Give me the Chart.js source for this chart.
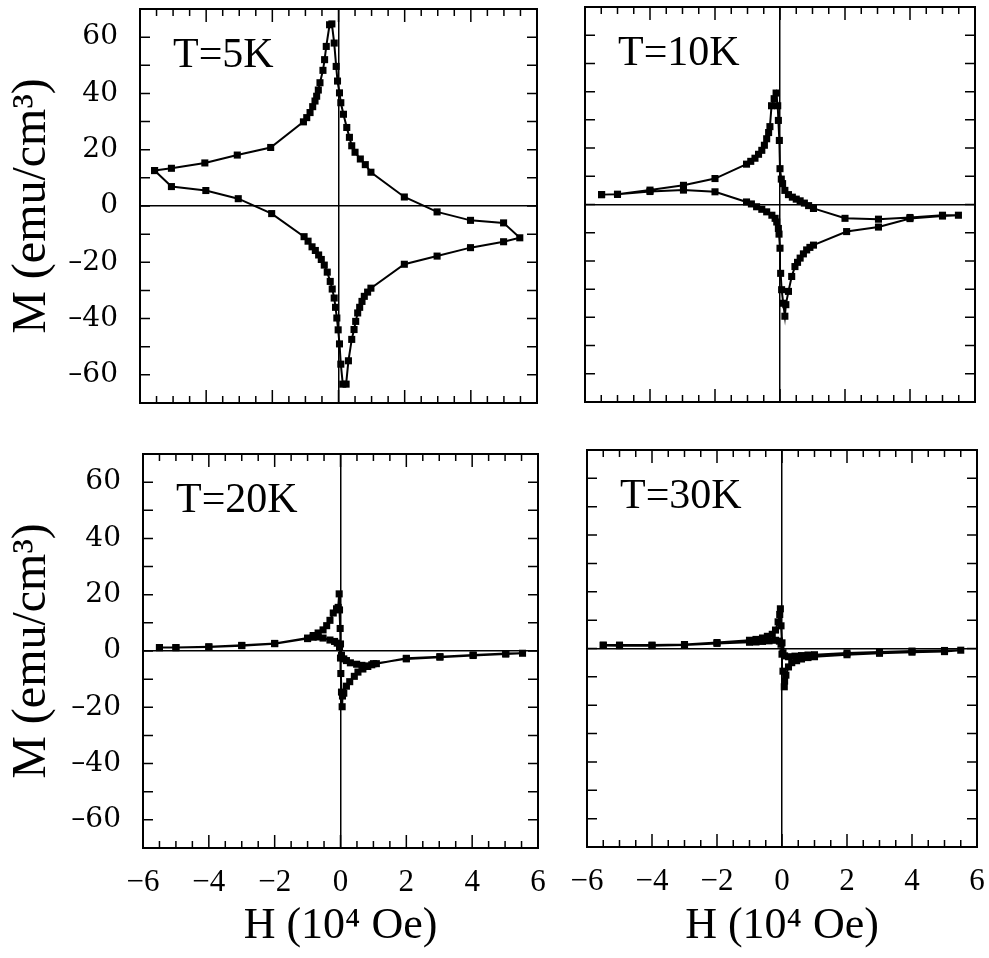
<!DOCTYPE html>
<html>
<head>
<meta charset="utf-8" />
<title>M-H hysteresis loops</title>
<script src="https://cdn.jsdelivr.net/npm/chart.js@4.4.1/dist/chart.umd.min.js"></script>
<style>
    body, html {
        margin: 0;
        padding: 0;
        background: #fff;
        width: 989px;
        height: 958px;
        overflow: hidden;
    }
    canvas { position: absolute; }
</style>
</head>
<body>
<canvas id="c5"  width="560" height="420" style="left:0px;top:0px"></canvas>
<canvas id="c10" width="429" height="420" style="left:560px;top:0px"></canvas>
<canvas id="c20" width="560" height="518" style="left:0px;top:440px"></canvas>
<canvas id="c30" width="429" height="518" style="left:560px;top:440px"></canvas>

<script>
// H in 10^4 Oe, M in emu/cm^3
// each loop: left tip -> peak -> right tip -> trough -> back to left tip
const h5 = [-5.56,-5.05,-4.04,-3.06,-2.05,-1.06,-0.96,-0.86,-0.78,-0.71,-0.66,-0.61,-0.56,-0.47,-0.42,-0.37,-0.27,
            -0.2,-0.13,-0.07,-0.03,0.03,0.07,0.15,0.25,0.33,0.4,0.5,0.66,0.81,0.98,1.99,2.98,3.99,4.99,5.48,
            4.99,3.99,2.98,1.99,0.98,0.88,0.78,0.71,0.64,0.58,0.52,0.47,0.4,0.3,0.23,0.13,
            0.07,0.03,-0.01,-0.05,-0.09,-0.13,-0.19,-0.25,-0.34,-0.43,-0.52,-0.6,-0.7,-0.8,-0.92,-1.04,-2.02,-3.03,-4.01,-5.05,-5.56];
const m5 = [12.6,13.4,15.3,18.1,20.8,29.9,31.4,33.2,35.3,37.3,39,41.2,43.8,48.2,52,56.7,64.4,
            64.7,57.9,49.6,44.4,40.2,36.7,32.6,27.9,24.4,21.4,19.1,16.7,14.7,12,3.2,-2.1,-5.1,-6.0,-11.3,
            -12.7,-14.8,-17.8,-20.7,-29.2,-30.6,-32.1,-33.9,-36,-38,-41,-43.9,-47.4,-55,-63.3,-63.3,
            -56.2,-49,-44,-39.8,-36,-32.7,-29.5,-26.8,-23.5,-21,-19,-17.4,-15.8,-14.5,-12.5,-10.9,-2.7,2.6,5.5,6.9,12.6];

const h10 = [-5.49,-5.0,-4.0,-2.97,-2.0,-1.03,-0.9,-0.77,-0.66,-0.56,-0.48,-0.41,-0.35,-0.31,-0.26,-0.18,-0.12,
             -0.07,-0.05,-0.02,0,0.04,0.08,0.15,0.26,0.38,0.5,0.62,0.75,0.88,1.03,2.0,3.03,4.0,5.0,5.49,
             5.0,4.0,3.03,2.05,1.03,0.92,0.82,0.72,0.62,0.54,0.46,0.36,0.26,0.18,0.15,
             0.1,0.05,0.02,0,-0.03,-0.05,-0.1,-0.15,-0.25,-0.41,-0.56,-0.72,-0.88,-1.03,-2.0,-2.97,-4.0,-5.0,-5.49];
const m10 = [3.5,3.6,5.1,6.8,9.2,14.3,15.3,16.4,17.8,19.2,21,23.3,25.5,27.6,35,37.5,39.5,
             35,29.8,22.7,12.7,9,7.4,5,3.5,2.6,1.9,1.3,0.5,-0.4,-1.4,-4.9,-5.2,-4.6,-3.8,-3.8,
             -4.1,-5.0,-8.0,-9.6,-14.4,-15.2,-16.1,-17.5,-19,-20.5,-22,-25.5,-30.8,-35.5,-39.6,
             -35,-30.2,-24.4,-15.5,-10.5,-8.5,-6.2,-4.9,-3.8,-2.6,-1.7,-0.8,0.2,0.9,4.5,5.1,4.6,3.6,3.5];

const h20 = [-5.5,-5,-4,-3,-2,-1,-0.83,-0.68,-0.53,-0.42,-0.32,-0.22,-0.12,-0.07,-0.04,
             -0.03,-0.01,0.0,0.03,0.1,0.18,0.3,0.49,0.65,0.79,0.95,1.09,2.0,3.02,4.03,5.02,5.53,
             5.02,4.03,3.02,2.0,1.0,0.83,0.68,0.53,0.42,0.28,0.18,0.1,0.06,0.05,
             0.03,0.01,0.0,-0.03,-0.1,-0.18,-0.32,-0.53,-0.68,-0.83,-1.0,-2,-3,-4,-5,-5.5];
const m20 = [1.2,1.2,1.4,1.9,2.6,4.4,5.5,6.4,7.5,9,10.9,13.5,15,15.5,20.3,
             14.6,8,2.5,-1.5,-2.8,-3.4,-4.2,-4.7,-5.1,-5.3,-4.9,-4.5,-2.6,-2.0,-1.4,-0.9,-0.8,
             -1.1,-1.6,-2.2,-2.8,-4.5,-5.5,-6.4,-7.5,-9,-10.9,-12.5,-15,-16,-19.8,
             -14.6,-8,-2.5,1.5,2.8,3.4,3.9,4.6,5,4.9,4.6,2.7,2.0,1.5,1.2,1.2];

const h30 = [-5.5,-5,-4,-3,-2,-1,-0.8,-0.6,-0.45,-0.3,-0.2,-0.12,-0.07,-0.05,
             -0.03,0.0,0.03,0.08,0.2,0.4,0.6,0.8,1.0,2.0,3.0,4.0,5.0,5.5,
             5.0,4.0,3.0,2.0,1.0,0.8,0.6,0.45,0.3,0.2,0.12,0.08,0.07,
             0.03,0.0,-0.03,-0.08,-0.2,-0.4,-0.6,-0.8,-1.0,-2,-3,-4,-5,-5.5];
const m30 = [1.2,1.2,1.2,1.4,2.1,2.9,3.2,3.7,4.3,5.0,6.5,9.4,12,14,
             8,2,-1.5,-2.6,-2.9,-2.7,-2.5,-2.3,-2.2,-1.6,-1.2,-0.9,-0.7,-0.6,
             -1.1,-1.3,-1.7,-2.2,-2.9,-3.2,-3.7,-4.3,-5.0,-6.5,-9.4,-11.5,-13.5,
             -8,-2,1.5,2.6,2.9,2.7,2.5,2.3,2.2,1.8,1.2,1.0,1.0,1.1];

const xTickVals = [-6, -4, -2, 0, 2, 4, 6];
const yTickVals = [-60, -40, -20, 0, 20, 40, 60];
const panelLabels = ['T=5K', 'T=10K', 'T=20K', 'T=30K'];

// inward ticks on all four sides, frame and the T= label
const framePlugin = {
    id: 'frame',
    afterDraw(chart, args, opts) {
        const { ctx, chartArea: a, scales: { x, y } } = chart;
        ctx.save();
        ctx.strokeStyle = '#000';
        ctx.lineWidth = 2;
        ctx.strokeRect(a.left, a.top, a.right - a.left, a.bottom - a.top);
        ctx.lineWidth = 1.5;
        ctx.beginPath();
        for (let v = -6; v <= 6; v += 0.5) {
            const px = x.getPixelForValue(v);
            const len = (v % 2 === 0) ? 13 : 7;
            ctx.moveTo(px, a.bottom); ctx.lineTo(px, a.bottom - len);
            ctx.moveTo(px, a.top); ctx.lineTo(px, a.top + len);
        }
        for (let v = -60; v <= 60; v += 10) {
            const py = y.getPixelForValue(v);
            ctx.moveTo(a.left, py); ctx.lineTo(a.left + 10, py);
            ctx.moveTo(a.right, py); ctx.lineTo(a.right - 10, py);
        }
        ctx.stroke();
        ctx.fillStyle = '#000';
        ctx.font = '42px "Liberation Serif"';
        ctx.textBaseline = 'alphabetic';
        ctx.fillText(opts.label, a.left + 33, a.top + 58);
        ctx.restore();
    }
};

const zeroGrid = c => (c.tick && c.tick.value === 0) ? '#000' : 'rgba(0,0,0,0)';

function makePanel(id, hs, ms, label, cfg)
{
    const pts = hs.map((h, i) => ({ x: h, y: ms[i] }));
    return new Chart(document.getElementById(id).getContext('2d'), {
        type: 'scatter',
        data: {
            datasets: [{
                data: pts,
                showLine: true,
                borderColor: '#000',
                borderWidth: 2,
                backgroundColor: '#000',
                pointStyle: 'rect',
                pointRadius: 5,
                pointBorderWidth: 0,
                tension: 0
            }]
        },
        options: {
            responsive: false,
            animation: false,
            devicePixelRatio: 1,
            layout: { padding: { left: 0, top: cfg.top, right: cfg.right, bottom: 0 } },
            plugins: {
                legend: { display: false },
                tooltip: { enabled: false },
                frame: { label: label }
            },
            scales: {
                x: {
                    type: 'linear', min: -6, max: 6,
                    afterBuildTicks: s => { s.ticks = xTickVals.map(v => ({ value: v })); },
                    afterFit: s => { s.height = cfg.xH; s.paddingLeft = 0; s.paddingRight = 0; },
                    border: { display: false },
                    grid: { color: zeroGrid, lineWidth: 1.5, drawTicks: false },
                    ticks: {
                        display: cfg.showX, padding: 16, color: '#000', maxRotation: 0, autoSkip: false,
                        font: { family: '"Liberation Serif"', size: 31 },
                        callback: v => String(v).replace('-', '\u2212')
                    },
                    title: {
                        display: cfg.showX, text: 'H (10\u2074 Oe)', color: '#000',
                        font: { family: '"Liberation Serif"', size: 44 },
                        padding: { top: 0, bottom: 5 }
                    }
                },
                y: {
                    type: 'linear', min: -70, max: 70,
                    afterBuildTicks: s => { s.ticks = yTickVals.map(v => ({ value: v })); },
                    afterFit: s => { s.width = cfg.yW; s.paddingTop = 0; s.paddingBottom = 0; },
                    border: { display: false },
                    grid: { color: zeroGrid, lineWidth: 1.5, drawTicks: false },
                    ticks: {
                        display: cfg.showY, padding: 22, color: '#000',
                        font: { family: '"DejaVu Serif"', size: 28 },
                        callback: v => String(v).replace('-', '\u2013')
                    },
                    title: {
                        display: cfg.showY, text: 'M (emu/cm\u00b3)', color: '#000',
                        font: { family: '"Liberation Serif"', size: 48 },
                        padding: { top: 4, bottom: 0 }
                    }
                }
            }
        },
        plugins: [framePlugin]
    });
}

makePanel('c5',  h5,  m5,  panelLabels[0], { showX: false, showY: true,  yW: 140, top: 9,  right: 23, xH: 17 });
makePanel('c10', h10, m10, panelLabels[1], { showX: false, showY: false, yW: 25,  top: 7,  right: 14, xH: 18 });
makePanel('c20', h20, m20, panelLabels[2], { showX: true,  showY: true,  yW: 143, top: 14, right: 22, xH: 110 });
makePanel('c30', h30, m30, panelLabels[3], { showX: true,  showY: false, yW: 27,  top: 10, right: 12, xH: 111 });
</script>
</body>
</html>
